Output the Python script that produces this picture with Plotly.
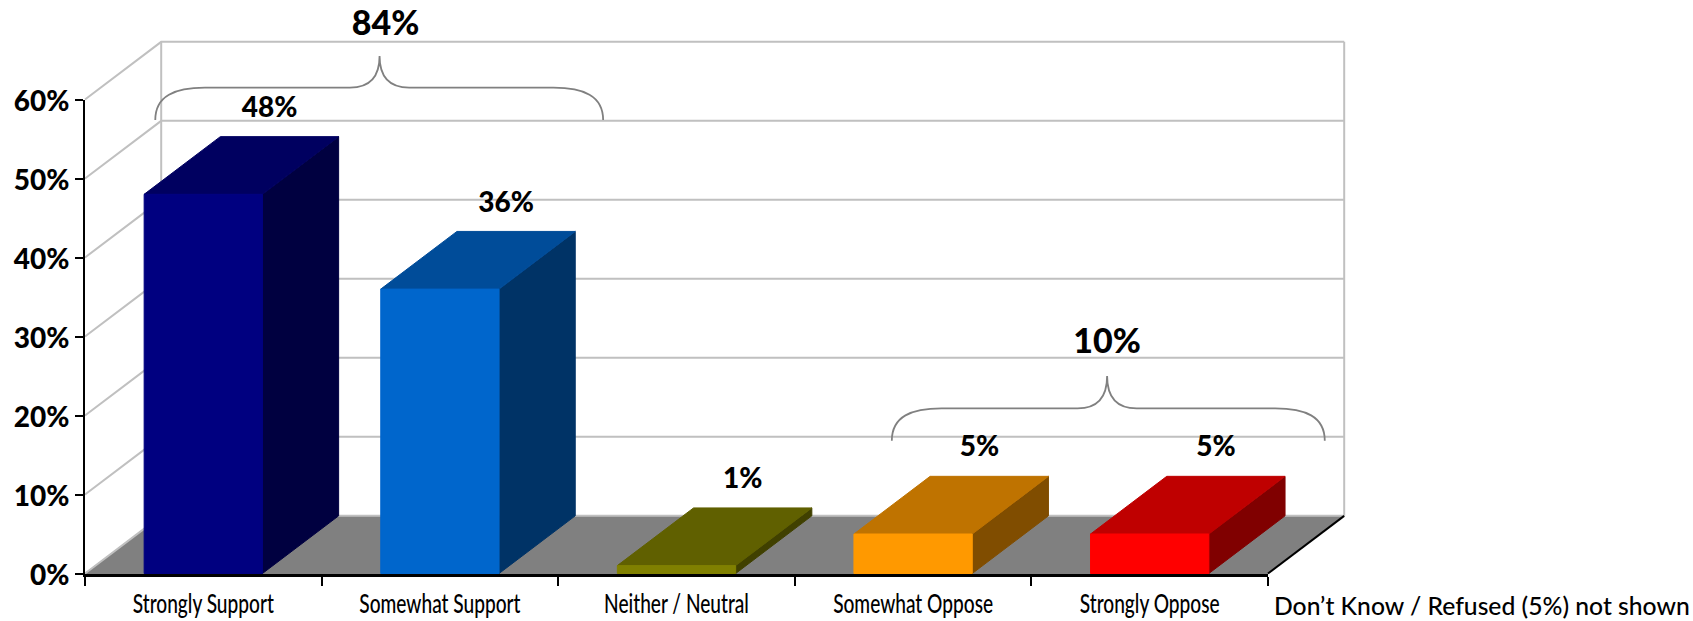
import plotly.graph_objects as go

categories = ["Strongly Support", "Somewhat Support", "Neither / Neutral", "Somewhat Oppose", "Strongly Oppose"]
values = [48, 36, 1, 5, 5]
value_labels = ["48%", "36%", "1%", "5%", "5%"]
y_ticks = [0, 10, 20, 30, 40, 50, 60]
y_tick_labels = ["0%", "10%", "20%", "30%", "40%", "50%", "60%"]
footnote = "Don’t Know / Refused (5%) not shown"

front_colors = ["#000080", "#0066CC", "#808000", "#FF9900", "#FF0000"]
top_colors = ["#000060", "#004C99", "#606000", "#BF7300", "#BF0000"]
side_colors = ["#000040", "#003366", "#404000", "#804D00", "#800000"]

W, H = 1693, 621
AX_L, AX_R, AX_TOP, AX_BOT = 85, 1268, 99.5, 573.5
DX, DY = 0.322, 7.3
BAR_W = 0.5
GRID = "#C0C0C0"
BOLD = "Lato"
NARROW = "Lato"

n = len(categories)
x_per_px = n / (AX_R - AX_L)
y_per_px = 60 / (AX_BOT - AX_TOP)
x_range = [-AX_L * x_per_px, (W - AX_L) * x_per_px]
y_range = [-(H - AX_BOT) * y_per_px, AX_BOT * y_per_px]

fig = go.Figure()


def poly(xs, ys, color, line=None):
    fig.add_trace(go.Scatter(x=xs, y=ys, mode="lines", fill="toself", fillcolor=color,
                             line=dict(color=line or color, width=1),
                             hoverinfo="skip", showlegend=False))


def lines(xs, ys, color, width):
    fig.add_trace(go.Scatter(x=xs, y=ys, mode="lines", line=dict(color=color, width=width),
                             hoverinfo="skip", showlegend=False))


poly([0, n, n + DX, DX, 0], [0, 0, DY, DY, 0], "#808080")

gx, gy = [], []
for v in y_ticks:
    gx += [0, DX, n + DX, None]
    gy += [v, v + DY, v + DY, None]
gx += [DX, DX, None, n + DX, n + DX]
gy += [DY, 60 + DY, None, DY, 60 + DY]
lines(gx, gy, GRID, 2)
lines([n, n + DX], [0, DY], "#000000", 2)

for i, v in enumerate(values):
    x0 = i + 0.5 - BAR_W / 2
    x1 = x0 + BAR_W
    poly([x1, x1 + DX, x1 + DX, x1, x1], [0, DY, v + DY, v, 0], side_colors[i])
    poly([x0, x1, x1 + DX, x0 + DX, x0], [v, v, v + DY, v + DY, v], top_colors[i])
    poly([x0, x1, x1, x0, x0], [0, 0, v, v, 0], front_colors[i])

fig.add_trace(go.Scatter(
    x=[i + 0.5 + 0.28 for i in range(n)],
    y=[v + DY + 3.4 for v in values],
    mode="text", text=value_labels, textposition="middle center",
    textfont=dict(family=BOLD, size=28, color="#000000", weight=900),
    hoverinfo="skip", showlegend=False))


def brace(x0, x1, xc, ybase, ymid, ytip):
    c = 0.21
    t = 0.125
    return (f"M {x0} {ybase} C {x0} {ymid - 1} {x0 + c * .4} {ymid} {x0 + c} {ymid} "
            f"L {xc - t} {ymid} C {xc - t * .3} {ymid} {xc} {ymid + 1.5} {xc} {ytip} "
            f"C {xc} {ymid + 1.5} {xc + t * .3} {ymid} {xc + t} {ymid} "
            f"L {x1 - c} {ymid} C {x1 - c * .4} {ymid} {x1} {ymid - 1} {x1} {ybase}")


group_labels = ["84%", "10%"]
group_spans = [(0.297, 2.19, 1.245, 57.4, 61.5, 65.5), (3.41, 5.24, 4.32, 16.8, 20.9, 25.0)]
group_text_pos = [(1.27, 69.3), (4.32, 29.0)]

shapes = [dict(type="path", path=brace(*s), xref="x", yref="y",
               line=dict(color="#808080", width=1.8)) for s in group_spans]

fig.add_trace(go.Scatter(
    x=[p[0] for p in group_text_pos], y=[p[1] for p in group_text_pos],
    mode="text", text=group_labels, textposition="middle center",
    textfont=dict(family=BOLD, size=34, color="#000000", weight=900),
    hoverinfo="skip", showlegend=False))

fig.add_trace(go.Scatter(x=[i + 0.5 for i in range(n)], y=values, xaxis="x2", yaxis="y2",
                         mode="markers", marker=dict(opacity=0), hoverinfo="skip", showlegend=False))

fig.update_layout(
    width=W, height=H, autosize=False,
    margin=dict(l=0, r=0, t=0, b=0, pad=0),
    paper_bgcolor="#FFFFFF", plot_bgcolor="rgba(0,0,0,0)",
    showlegend=False, shapes=shapes,
    annotations=[dict(text=footnote, x=5.016, y=-4.1, xref="x", yref="y", xanchor="left",
                      yanchor="middle", showarrow=False,
                      font=dict(family="Lato", size=24.7, color="#000000", weight=500))],
    xaxis=dict(range=x_range, domain=[0, 1], visible=False, fixedrange=True, automargin=False),
    yaxis=dict(range=y_range, domain=[0, 1], visible=False, fixedrange=True, automargin=False),
    xaxis2=dict(range=[0, n], domain=[AX_L / W, AX_R / W], anchor="y2", automargin=False,
                tickmode="array", tickvals=[i + 0.5 for i in range(n)],
                ticktext=categories, ticks="", showgrid=False, zeroline=False,
                showline=True, linecolor="#000000", linewidth=3,
                tickfont=dict(family=NARROW, size=26, color="#000000", weight=500), ticklabelstandoff=5,
                minor=dict(tickmode="array", tickvals=list(range(n + 1)), ticks="outside",
                           ticklen=9, tickwidth=1.5, tickcolor="#000000", showgrid=False)),
    yaxis2=dict(range=[0, 60], domain=[(H - AX_BOT) / H, (H - AX_TOP) / H], anchor="x2", automargin=False,
                tickmode="array", tickvals=y_ticks, ticktext=y_tick_labels,
                ticks="outside", ticklen=8, tickwidth=2, tickcolor="#000000",
                showgrid=False, zeroline=False, showline=True, linecolor="#000000", linewidth=2,
                ticklabelstandoff=0, ticklabelshift=2,
                tickfont=dict(family=BOLD, size=28, color="#000000", weight=900)),
)

post = """
document.body.style.margin='0';
document.querySelectorAll('.x2tick text').forEach(function(t){
  var w=t.getComputedTextLength();
  t.setAttribute('textLength', w*0.735);
  t.setAttribute('lengthAdjust','spacingAndGlyphs');
});
"""
fig.write_html("out.html", post_script=post, config={"displayModeBar": False})
